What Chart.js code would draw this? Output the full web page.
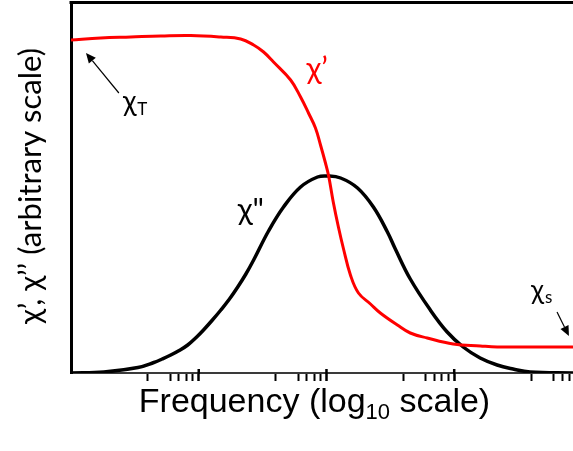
<!DOCTYPE html>
<html>
<head>
<meta charset="utf-8">
<script src="https://cdn.jsdelivr.net/npm/chart.js@4.4.1/dist/chart.umd.min.js"></script>
<style>
html,body{margin:0;padding:0;background:#fff;}
#wrap{position:relative;width:573px;height:451px;}
</style>
</head>
<body>
<div id="wrap"><canvas id="c" width="573" height="451"></canvas></div>
<script>
// ---- data (frequency in arbitrary units, log axis) ----
const freqPrime = [1, 1.71, 2.94, 5.05, 8.66, 14.9, 21.3, 26.9, 32.2, 38.5, 52.4, 62.7, 72.3, 82.0, 89.8, 98.2, 104, 113, 124, 136, 154, 178, 221, 264, 359, 453, 615, 982, 1600, 2170, 3930, 8510];
const chiPrime  = [3.33, 3.35, 3.36, 3.37, 3.375, 3.36, 3.34, 3.28, 3.21, 3.11, 2.93, 2.76, 2.60, 2.45, 2.28, 2.10, 1.97, 1.71, 1.46, 1.24, 0.98, 0.80, 0.69, 0.60, 0.48, 0.40, 0.35, 0.29, 0.27, 0.26, 0.26, 0.26];
const freqDouble = [1, 1.81, 3.34, 4.45, 5.17, 6.04, 7.03, 8.20, 9.55, 10.9, 12.8, 14.9, 17.4, 20.2, 23.4, 26.9, 35.2, 46.1, 62.7, 85.1, 102, 129, 175, 233, 300, 346, 453, 650, 881, 1176, 1596, 2168, 2890, 3925, 8511];
const chiDouble  = [0, 0.01, 0.055, 0.105, 0.14, 0.18, 0.225, 0.28, 0.355, 0.43, 0.53, 0.63, 0.74, 0.86, 0.99, 1.13, 1.42, 1.66, 1.86, 1.96, 1.97, 1.95, 1.85, 1.66, 1.41, 1.24, 0.94, 0.63, 0.41, 0.26, 0.15, 0.08, 0.04, 0.01, 0];
const majorTicks = [10, 100, 1000];
const minorFactors = [4, 6, 7, 8, 9];
const xRange = [1, 8511];
const yRange = [0, 3.70];
const xTitleParts = ['Frequency (log', '10', ' scale)'];
const yTitle = 'χ’, χ’’ (arbitrary scale)';
const seriesLabels = ['χ’', 'χ"'];
// annotation anchors in data units
const notes = [
  {text: 'χ’', sub: '', f: 69.8, v: 2.94, color: '#ff0000', size: 31},
  {text: 'χ"', sub: '', f: 20.2, v: 1.53, color: '#000000', size: 31},
  {text: 'χ', sub: 'T', f: 2.55, v: 2.62, color: '#000000', size: 28},
  {text: 'χ', sub: 's', f: 4000, v: 0.74, color: '#000000', size: 27}
];
const arrows = [
  {from: [2.37, 2.80], to: [1.31, 3.20]},
  {from: [6380, 0.61], to: [7910, 0.37]}
];

const allTicks = [];
[1, 10, 100, 1000].forEach(d => minorFactors.forEach(m => allTicks.push({value: d * m, major: false})));
majorTicks.forEach(v => allTicks.push({value: v, major: true}));
allTicks.sort((a, b) => a.value - b.value);

const decorPlugin = {
  id: 'decor',
  afterDraw(chart) {
    const ctx = chart.ctx, a = chart.chartArea;
    const xs = chart.scales.x, ys = chart.scales.y;
    ctx.save();
    // top frame line
    ctx.strokeStyle = '#000'; ctx.lineWidth = 3;
    ctx.beginPath(); ctx.moveTo(a.left - 1.5, a.top - 0.5); ctx.lineTo(chart.width, a.top - 0.5); ctx.stroke();
    // major ticks crossing the axis
    ctx.lineWidth = 2.5;
    majorTicks.forEach(v => {
      const px = xs.getPixelForValue(v);
      ctx.beginPath(); ctx.moveTo(px, a.bottom - 4); ctx.lineTo(px, a.bottom + 1); ctx.stroke();
    });
    // arrows
    ctx.lineWidth = 1.2; ctx.fillStyle = '#000';
    arrows.forEach(ar => {
      const x0 = xs.getPixelForValue(ar.from[0]), y0 = ys.getPixelForValue(ar.from[1]);
      const x1 = xs.getPixelForValue(ar.to[0]), y1 = ys.getPixelForValue(ar.to[1]);
      const ang = Math.atan2(y1 - y0, x1 - x0), L = 10, W = 4.5;
      const bx = x1 - L * Math.cos(ang), by = y1 - L * Math.sin(ang);
      ctx.beginPath(); ctx.moveTo(x0, y0); ctx.lineTo(bx, by); ctx.stroke();
      ctx.beginPath();
      ctx.moveTo(x1, y1);
      ctx.lineTo(bx + W * Math.sin(ang), by - W * Math.cos(ang));
      ctx.lineTo(bx - W * Math.sin(ang), by + W * Math.cos(ang));
      ctx.closePath(); ctx.fill();
    });
    // annotations
    ctx.textBaseline = 'alphabetic'; ctx.textAlign = 'left';
    notes.forEach(n => {
      const px = xs.getPixelForValue(n.f), py = ys.getPixelForValue(n.v);
      ctx.fillStyle = n.color;
      ctx.font = n.size + 'px Lato';
      ctx.fillText(n.text, px, py);
      if (n.sub) {
        const w = ctx.measureText(n.text).width;
        ctx.font = Math.round(n.size * 0.62) + 'px Lato';
        ctx.fillText(n.sub, px + w + 1, py + 4);
      }
    });
    // x title with subscript
    ctx.fillStyle = '#000';
    const big = '34px "Liberation Sans", Arial, sans-serif', small = '22px "Liberation Sans", Arial, sans-serif';
    ctx.font = big; const w0 = ctx.measureText(xTitleParts[0]).width; const w2 = ctx.measureText(xTitleParts[2]).width;
    ctx.font = small; const w1 = ctx.measureText(xTitleParts[1]).width;
    let sx = 314.5 - (w0 + w1 + w2) / 2; const base = 412;
    ctx.font = big; ctx.fillText(xTitleParts[0], sx, base); sx += w0;
    ctx.font = small; ctx.fillText(xTitleParts[1], sx, base + 7); sx += w1;
    ctx.font = big; ctx.fillText(xTitleParts[2], sx, base);
    // y title
    ctx.translate(31, 186); ctx.rotate(-Math.PI / 2);
    ctx.font = '31px Lato'; ctx.textAlign = 'center'; ctx.textBaseline = 'middle';
    ctx.fillText(yTitle, 0, 0);
    ctx.restore();
  }
};

new Chart(document.getElementById('c'), {
  type: 'line',
  data: {
    datasets: [
      {label: seriesLabels[0], data: freqPrime.map((f, i) => ({x: f, y: chiPrime[i]})), borderColor: '#ff0000', borderWidth: 3, pointRadius: 0, tension: 0.4, fill: false},
      {label: seriesLabels[1], data: freqDouble.map((f, i) => ({x: f, y: chiDouble[i]})), borderColor: '#000000', borderWidth: 3.5, pointRadius: 0, tension: 0.4, fill: false}
    ]
  },
  options: {
    responsive: false,
    animation: false,
    devicePixelRatio: 1,
    layout: {padding: {left: 71, top: 3, right: 0, bottom: 70}},
    plugins: {legend: {display: false}, tooltip: {enabled: false}},
    scales: {
      x: {
        type: 'logarithmic', min: xRange[0], max: xRange[1],
        afterBuildTicks: s => { s.ticks = allTicks.map(t => ({value: t.value, major: t.major})); },
        ticks: {display: false},
        grid: {display: true, drawOnChartArea: false, drawTicks: true, tickLength: 8, tickColor: '#000', tickWidth: c => (c.tick && c.tick.major ? 2.5 : 2)},
        border: {display: true, color: '#3a3a3a', width: 2}
      },
      y: {
        type: 'linear', min: yRange[0], max: yRange[1],
        ticks: {display: false},
        grid: {display: false, drawTicks: false},
        border: {display: true, color: '#000', width: 3}
      }
    }
  },
  plugins: [decorPlugin]
});
</script>
</body>
</html>
